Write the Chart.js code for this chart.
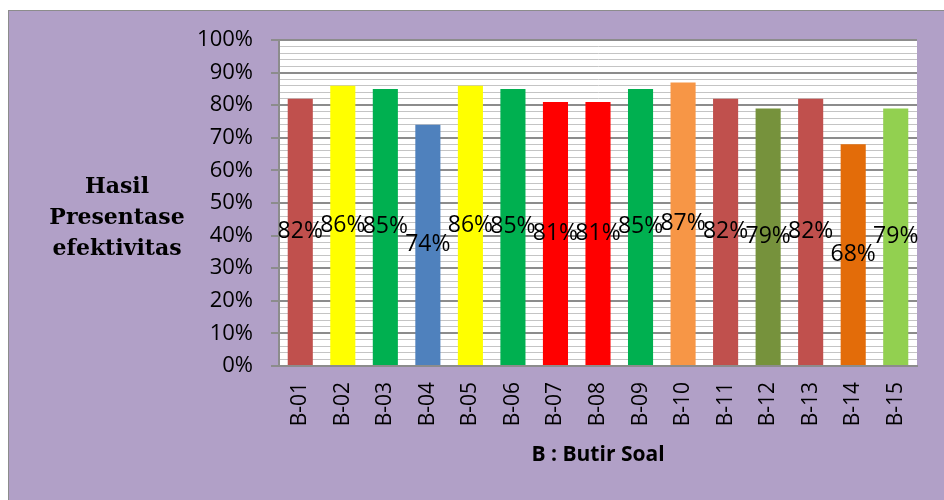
<!DOCTYPE html>
<html>
<head>
<meta charset="utf-8">
<script src="https://cdn.jsdelivr.net/npm/chart.js@4"></script>
<style>
  html, body { margin: 0; padding: 0; background: #ffffff; }
  #wrap { width: 944px; height: 500px; position: relative; }
</style>
</head>
<body>
<div id="wrap"><canvas id="efektivitasChart" width="944" height="500"></canvas></div>
<script>
// data butir soal
const butirLabels = ['B-01', 'B-02', 'B-03', 'B-04', 'B-05', 'B-06', 'B-07', 'B-08', 'B-09', 'B-10', 'B-11', 'B-12', 'B-13', 'B-14', 'B-15'];
const persentase = [82, 86, 85, 74, 86, 85, 81, 81, 85, 87, 82, 79, 82, 68, 79];
const warnaBatang = ['#C0504D', '#FFFF00', '#00B050', '#4F81BD', '#FFFF00', '#00B050', '#FF0000', '#FF0000', '#00B050', '#F79646', '#C0504D', '#76923C', '#C0504D', '#E36C09', '#92D050'];
const judulY = ['Hasil', 'Presentase', 'efektivitas'];
const judulX = 'B : Butir Soal';

// latar ungu + area plot putih
const latarPlugin = {
    id: 'latar',
    beforeDraw(chart) {
        const { ctx, chartArea } = chart;
        ctx.save();
        ctx.fillStyle = '#ffffff';
        ctx.fillRect(0, 0, chart.width, chart.height);
        ctx.fillStyle = '#B1A0C7';
        ctx.fillRect(8, 10, chart.width, chart.height);
        ctx.strokeStyle = '#8c8c8c';
        ctx.lineWidth = 1;
        ctx.strokeRect(8.5, 10.5, chart.width, chart.height);
        ctx.fillStyle = '#ffffff';
        ctx.fillRect(chartArea.left, chartArea.top, chartArea.right - chartArea.left, chartArea.bottom - chartArea.top);
        ctx.restore();
    }
};

// label nilai di tengah batang + judul sumbu Y mendatar
const labelPlugin = {
    id: 'labelNilai',
    afterDatasetsDraw(chart) {
        const { ctx } = chart;
        const meta = chart.getDatasetMeta(0);
        ctx.save();
        ctx.fillStyle = '#000000';
        ctx.font = '23px "Open Sans"';
        ctx.textAlign = 'center';
        ctx.textBaseline = 'middle';
        meta.data.forEach((bar, i) => {
            const yTengah = (bar.y + bar.base) / 2;
            ctx.fillText(persentase[i] + '%', bar.x, yTengah);
        });
        ctx.font = 'bold 22px "DejaVu Serif"';
        judulY.forEach((baris, i) => {
            ctx.fillText(baris, 117, 187 + i * 31);
        });
        ctx.restore();
    }
};

const ctx = document.getElementById('efektivitasChart').getContext('2d');
const myChart = new Chart(ctx, {
    type: 'bar',
    data: {
        labels: butirLabels,
        datasets: [{
            data: persentase,
            backgroundColor: warnaBatang,
            borderWidth: 0,
            barPercentage: 0.59,
            categoryPercentage: 1
        }]
    },
    options: {
        responsive: false,
        animation: false,
        layout: { padding: { top: 40, right: 27, bottom: 0, left: 0 } },
        plugins: {
            legend: { display: false },
            tooltip: { enabled: false }
        },
        scales: {
            x: {
                grid: { display: false },
                border: { display: true, color: '#8c8c8c', width: 2 },
                ticks: {
                    color: '#000000',
                    font: { family: 'Open Sans', size: 21 },
                    minRotation: 90,
                    maxRotation: 90,
                    autoSkip: false,
                    padding: 8
                },
                title: {
                    display: true,
                    text: judulX,
                    color: '#000000',
                    font: { family: 'Open Sans', size: 21, weight: 'bold' },
                    padding: { top: 4, bottom: 32 }
                },
                afterFit(scale) { scale.height = 134; }
            },
            y: {
                min: 0,
                max: 100,
                grid: {
                    color: c => (c.tick && c.tick.value % 10 === 0) ? '#8c8c8c' : '#c4c4c4',
                    lineWidth: c => (c.tick && c.tick.value % 10 === 0) ? 2 : 1,
                    tickColor: c => (c.tick && c.tick.value % 10 === 0) ? '#8c8c8c' : 'rgba(0,0,0,0)',
                    tickLength: 8
                },
                border: { display: true, color: '#8c8c8c', width: 2 },
                ticks: {
                    stepSize: 2,
                    autoSkip: false,
                    color: '#000000',
                    font: { family: 'Open Sans', size: 22 },
                    padding: 18,
                    callback: v => v % 10 === 0 ? v + '%' : ''
                },
                afterFit(scale) { scale.width = 279; }
            }
        }
    },
    plugins: [latarPlugin, labelPlugin]
});
</script>
</body>
</html>
